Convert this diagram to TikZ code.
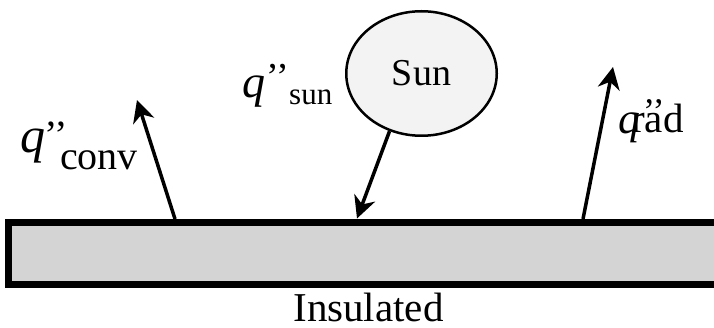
\documentclass[tikz,border=0pt]{standalone}
\usepackage{fontspec}
\setmainfont{Liberation Serif}
\newfontfamily\tnr{Liberation Serif}
\usetikzlibrary{arrows.meta,shapes.geometric}
\definecolor{slabfill}{HTML}{D4D4D4}
\definecolor{sunfill}{HTML}{F3F3F3}
\begin{document}
\begin{tikzpicture}[x=1pt,y=-1pt,
  flux/.style={line width=3.5pt, -{Stealth[length=22pt,width=22pt,inset=7pt]}},
  lbl/.style={inner sep=0pt, anchor=base west},
  qsym/.style={lbl, font=\tnr\fontsize{#1}{#1}\selectfont\itshape},
  qmark/.style={lbl, font=\tnr\fontsize{#1}{#1}\selectfont},
  sub/.style={lbl, font=\tnr\fontsize{#1}{#1}\selectfont},
  slab/.style={draw, line width=7pt, fill=slabfill},
  sunnode/.style={ellipse, draw, line width=2.5pt, fill=sunfill,
    minimum width=150.5pt, minimum height=124.5pt, inner sep=0pt,
    font=\tnr\fontsize{38}{38}\selectfont}]
\useasboundingbox (0,0) rectangle (714,328);
\fill[white] (0,0) rectangle (714,328);
% slab
\begin{scope}
  \clip (0,0) rectangle (714,328);
  \draw[slab] (8.5,223) rectangle (740,284.5);
\end{scope}
\coordinate (convbase) at (175,219);
\coordinate (convtip) at (137,100);
\coordinate (sunhit) at (357,218.5);
\coordinate (radbase) at (583,219);
\coordinate (radtip) at (613,67);
% sun
\node[sunnode] (sun) at (421.5,73.5) {Sun};
% arrows
\draw[flux] (convbase) -- (convtip);
\draw[flux] (sun.241) -- (sunhit);
\draw[flux] (radbase) -- (radtip);
% labels
\node[qsym=50] (qc) at (20,153) {q};
\node[qmark=40] (qcm) at (44,149) {’’};
\node[sub=40] (conv) at (60,170) {conv};
\node[qsym=46] (qs) at (242,98) {q};
\node[qmark=38] (qsm) at (266,90) {’’};
\node[sub=31] (sunsub) at (289,105) {sun};
\node[qsym=44] (qr) at (618,134) {q};
\node[qmark=36] (qrm) at (643,124) {’’};
\node[sub=41] (rad) at (631,133) {rad};
\node[inner sep=0pt, anchor=base, font=\tnr\fontsize{41}{41}\selectfont] (ins) at (368.5,321) {Insulated};
\end{tikzpicture}
\end{document}
